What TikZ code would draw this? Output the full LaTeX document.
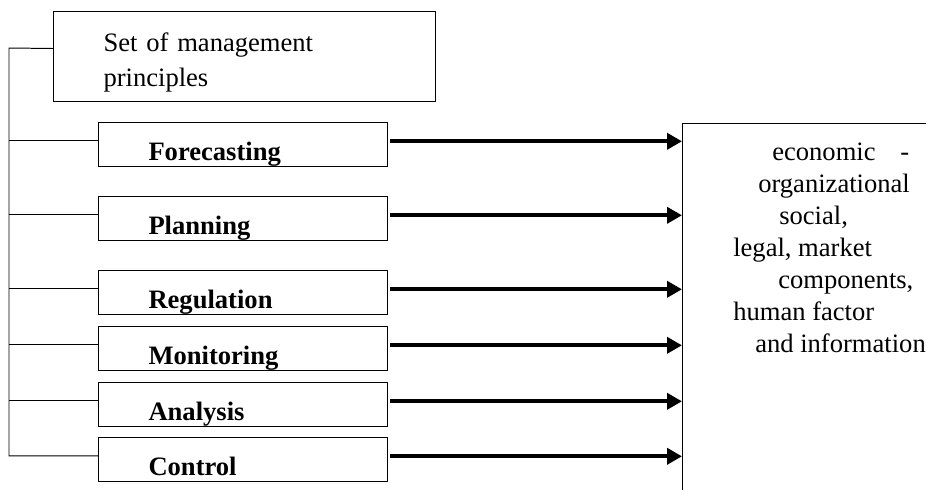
\documentclass[tikz,border=0pt]{standalone}
\usepackage{fontspec}
\setmainfont{Liberation Serif}
\usetikzlibrary{arrows.meta}

\newcommand{\diagfont}{\fontsize{18.9}{22.8}\selectfont}

\tikzset{
  pbox/.style={draw, line width=0.7pt, anchor=north west, minimum width=7.225cm, minimum height=1.1cm,
    inner xsep=1.25cm, inner ysep=0.05cm, text width=4.725cm, align=left,
    text height=0.8cm, text depth=0.025cm, font=\diagfont\bfseries},
  tree/.style={line width=0.7pt},
  arr/.style={line width=2.8pt, -{Triangle[length=0.375cm, width=0.4cm]}},
  rline/.style={anchor=base west, inner sep=0pt},
}

\begin{document}
\begin{tikzpicture}[x=0.025cm, y=-0.025cm, font=\diagfont]
  \useasboundingbox (0,0) rectangle (926,489);
  \clip (0,0) rectangle (926,489);

  % principles and the functions
  \node[draw, line width=0.7pt, anchor=north west, minimum width=9.55cm, minimum height=2.25cm,
    inner xsep=1.25cm, text width=7.05cm, align=left, font=\fontsize{18.9}{24.9}\selectfont]
    (set) at (53,11) {\rule{0pt}{0.75cm}Set of management\\principles};

  \node[pbox] (fore) at (98,122) {Forecasting};
  \node[pbox] (plan) at (98,196) {Planning};
  \node[pbox] (regu) at (98,270) {Regulation};
  \node[pbox] (moni) at (98,326) {Monitoring};
  \node[pbox] (anal) at (98,382) {Analysis};
  \node[pbox] (ctrl) at (98,437) {Control};

  % left bracket
  \coordinate (spine) at (9,48);
  \draw[tree] ([yshift=0.2cm]set.west) -- (spine) |- ([yshift=0.09cm]ctrl.west);
  \draw[tree] ([yshift=0.09cm]fore.west) -- ([yshift=0.09cm]fore.west -| spine);
  \draw[tree] ([yshift=0.09cm]plan.west) -- ([yshift=0.09cm]plan.west -| spine);
  \draw[tree] ([yshift=0.09cm]regu.west) -- ([yshift=0.09cm]regu.west -| spine);
  \draw[tree] ([yshift=0.09cm]moni.west) -- ([yshift=0.09cm]moni.west -| spine);
  \draw[tree] ([yshift=0.09cm]anal.west) -- ([yshift=0.09cm]anal.west -| spine);

  % components box
  \node[draw, line width=0.7pt, anchor=north west, minimum width=8cm, minimum height=10cm]
    (eff) at (682,123) {};

  \draw[arr] ([xshift=0.05cm,yshift=0.08cm]fore.east) -- ([yshift=0.08cm]fore.east -| eff.west);
  \draw[arr] ([xshift=0.05cm,yshift=0.08cm]plan.east) -- ([yshift=0.08cm]plan.east -| eff.west);
  \draw[arr] ([xshift=0.05cm,yshift=0.08cm]regu.east) -- ([yshift=0.08cm]regu.east -| eff.west);
  \draw[arr] ([xshift=0.05cm,yshift=0.08cm]moni.east) -- ([yshift=0.08cm]moni.east -| eff.west);
  \draw[arr] ([xshift=0.05cm,yshift=0.08cm]anal.east) -- ([yshift=0.08cm]anal.east -| eff.west);
  \draw[arr] ([xshift=0.05cm,yshift=0.08cm]ctrl.east) -- ([yshift=0.08cm]ctrl.east -| eff.west);

  \node[rline] (c1) at (772,160) {economic\hspace{0.62cm}-};
  \node[rline] (c2) at (758,192) {organizational};
  \node[rline] (c3) at (779,224) {social,};
  \node[rline] (c4) at (733,256) {legal, market};
  \node[rline] (c5) at (778,288) {components,};
  \node[rline] (c6) at (733,320) {human factor};
  \node[rline] (c7) at (755,352) {and information};
\end{tikzpicture}
\end{document}
